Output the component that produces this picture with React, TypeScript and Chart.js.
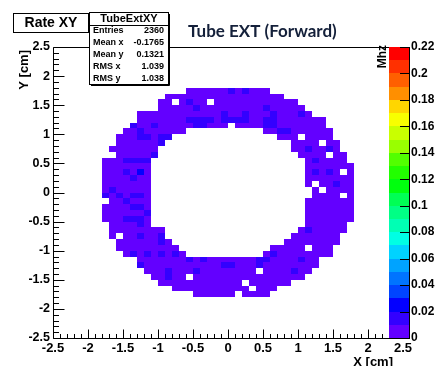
import React, { useEffect, useRef } from 'react';
import { Chart, registerables } from 'chart.js';

Chart.register(...registerables);

// ---------- axes ----------
const BIN = 0.1; // cm
const xMajorTicks = [-2.5, -2, -1.5, -1, -0.5, 0, 0.5, 1, 1.5, 2, 2.5];
const yMajorTicks = [-2.5, -2, -1.5, -1, -0.5, 0, 0.5, 1, 1.5, 2, 2.5];
const minorPerMajor = 5;
const zTicks = [0, 0.02, 0.04, 0.06, 0.08, 0.1, 0.12, 0.14, 0.16, 0.18, 0.2, 0.22];
const zMax = 0.22;
const zLevels = 22;

// ---------- data ----------
// lower edge (cm) of each filled y-bin row, top to bottom
const rowY = [
  1.7, 1.6, 1.5, 1.4, 1.3, 1.2, 1.1, 1.0, 0.9, 0.8, 0.7, 0.6, 0.5, 0.4, 0.3, 0.2, 0.1, 0.0,
  -0.1, -0.2, -0.3, -0.4, -0.5, -0.6, -0.7, -0.8, -0.9, -1.0, -1.1, -1.2, -1.3, -1.4, -1.5, -1.6, -1.7, -1.8,
];
// filled x ranges [from, to) in cm for each row above
const rowRuns: number[][][] = [
  [[-0.6, 0.6]],
  [[-0.9, 0.8]],
  [[-1.0, 1.0]],
  [[-1.0, 1.1]],
  [[-1.3, 1.2]],
  [[-1.3, 1.4]],
  [[-1.4, 1.4]],
  [[-1.5, -0.6], [0.5, 1.5]],
  [[-1.6, -0.8], [0.7, 1.5]],
  [[-1.6, -0.9], [0.9, 1.6]],
  [[-1.7, -1.0], [0.9, 1.6]],
  [[-1.6, -1.0], [1.0, 1.7]],
  [[-1.8, -1.1], [1.1, 1.7]],
  [[-1.8, -1.1], [1.1, 1.8]],
  [[-1.8, -1.1], [1.1, 1.8]],
  [[-1.8, -1.1], [1.1, 1.8]],
  [[-1.8, -1.1], [1.1, 1.8]],
  [[-1.8, -1.1], [1.2, 1.8]],
  [[-1.8, -1.1], [1.2, 1.8]],
  [[-1.7, -1.1], [1.1, 1.8]],
  [[-1.8, -1.1], [1.1, 1.8]],
  [[-1.8, -1.1], [1.1, 1.8]],
  [[-1.8, -1.1], [1.1, 1.8]],
  [[-1.7, -1.1], [1.1, 1.7]],
  [[-1.7, -0.9], [1.0, 1.7]],
  [[-1.7, -0.9], [0.9, 1.6]],
  [[-1.6, -0.8], [0.8, 1.6]],
  [[-1.6, -0.7], [0.6, 1.5]],
  [[-1.5, -0.6], [0.5, 1.5]],
  [[-1.3, 1.3]],
  [[-1.3, 1.3]],
  [[-1.2, 1.2]],
  [[-1.1, 1.1]],
  [[-1.0, 0.9]],
  [[-0.8, 0.7]],
  [[-0.5, 0.6]],
];
// empty bins inside the ring (lower-left corner, cm)
const emptyCells = [
  [0.0, 1.1], [-0.8, 1.5], [-0.3, 1.5], [1.0, 0.9], [1.3, 0.8], [1.4, 0.6], [1.6, 0.3],
  [1.2, 0.1], [1.3, 0.0], [1.6, -0.1], [-1.6, -0.8], [1.1, -1.0], [0.4, -1.4], [-0.6, -1.5],
  [0.2, -1.6], [0.3, -1.7], [0.1, -1.8],
];
// bins in the 0.01-0.02 MHz band
const midRateCells = [
  [0.0, 1.7], [0.2, 1.7], [-0.6, 1.5], [-0.5, 1.4], [0.5, 1.4], [-0.1, 1.3], [0.2, 1.3], [0.6, 1.3], [1.0, 1.3],
  [-0.6, 1.2], [-0.5, 1.2], [-0.4, 1.2], [-0.3, 1.2], [-0.1, 1.2], [0.0, 1.2], [0.1, 1.2], [0.2, 1.2],
  [0.5, 1.2], [0.6, 1.2], [-1.4, 1.1], [-1.1, 1.1], [-0.5, 1.1], [-0.4, 1.1], [0.5, 1.1], [0.6, 1.1],
  [-1.3, 1.0], [0.7, 1.0], [0.8, 1.0], [-1.3, 0.9], [-1.2, 0.9], [-1.0, 0.9], [-0.9, 0.9], [-1.0, 0.8],
  [1.1, 0.7], [1.4, 0.7], [-1.1, 0.6], [-1.5, 0.5], [-1.4, 0.5], [-1.3, 0.5], [-1.2, 0.5], [1.2, 0.5],
  [-1.5, 0.3], [1.2, 0.3], [1.4, 0.3], [-1.4, 0.2], [1.5, 0.1], [-1.7, 0.0], [-1.8, -0.1], [-1.6, -0.1],
  [-1.4, -0.1], [-1.3, -0.1], [-1.5, -0.2], [-1.4, -0.3], [-1.3, -0.3], [-1.2, -0.4], [-1.5, -0.5],
  [-1.4, -0.5], [-1.3, -0.5], [-1.3, -0.6], [1.1, -0.7], [-1.3, -0.8], [-1.0, -0.8], [-1.0, -0.9],
  [-1.4, -1.1], [-1.2, -1.1], [-1.0, -1.1], [-0.8, -1.1], [0.6, -1.1], [-0.6, -1.2], [-0.4, -1.2],
  [0.4, -1.2], [0.5, -1.2], [1.0, -1.2], [-1.3, -1.3], [-0.1, -1.3], [0.0, -1.3], [0.4, -1.3],
  [-0.9, -1.4], [-0.5, -1.4], [0.9, -1.4], [-0.9, -1.5],
];
// bins in the 0.02-0.03 MHz band
const highRateCells = [[-1.3, 0.3]];
const baseRate = 0.005;
const midRate = 0.015;
const highRate = 0.025;

const statsTitle = 'TubeExtXY';
const statsLabels = ['Entries', 'Mean x', 'Mean y', 'RMS x', 'RMS y'];
const statsValues = ['2360', '-0.1765', '0.1321', '1.039', '1.038'];
const chartTitle = 'Tube EXT (Forward)';
const boxTitle = 'Rate XY';
const xTitle = 'X [cm]';
const yTitle = 'Y [cm]';
const zTitle = 'Mhz';

// ---------- helpers ----------
const key = (x: number, y: number) => `${Math.round(x * 10)},${Math.round(y * 10)}`;

function buildCells() {
  const empty = new Set(emptyCells.map(([x, y]) => key(x, y)));
  const mid = new Set(midRateCells.map(([x, y]) => key(x, y)));
  const high = new Set(highRateCells.map(([x, y]) => key(x, y)));
  const cells: { x: number; y: number; v: number }[] = [];
  rowY.forEach((y, i) => {
    rowRuns[i].forEach(([a, b]) => {
      for (let k = Math.round(a * 10); k < Math.round(b * 10); k++) {
        const x = k / 10;
        const kk = key(x, y);
        if (empty.has(kk)) continue;
        const v = high.has(kk) ? highRate : mid.has(kk) ? midRate : baseRate;
        cells.push({ x: x + BIN / 2, y: y + BIN / 2, v });
      }
    });
  });
  return cells;
}

// ROOT "pretty" palette (SetPalette(1)), 50 colours, picked for zLevels contours
function paletteColor(level: number) {
  const idx = Math.floor(((level + 0.99) * 50) / zLevels);
  const hue = 280 - (idx + 1) * 5.6;
  return `hsl(${hue}, 100%, 50%)`;
}
function colorFor(v: number) {
  const level = Math.min(zLevels - 1, Math.max(0, Math.floor((v / zMax) * zLevels)));
  return paletteColor(level);
}

function withMinors(majors: number[]) {
  const out: number[] = [];
  for (let i = 0; i < majors.length; i++) {
    out.push(majors[i]);
    if (i < majors.length - 1) {
      const step = (majors[i + 1] - majors[i]) / minorPerMajor;
      for (let j = 1; j < minorPerMajor; j++) out.push(Math.round((majors[i] + j * step) * 1000) / 1000);
    }
  }
  return out;
}
const isMajor = (majors: number[], v: number) => majors.some((m) => Math.abs(m - v) < 1e-6);

const FONT = '"Liberation Sans", Arial, sans-serif';

const rootPlugin = {
  id: 'rootStyle',
  beforeDraw(chart: any) {
    const { ctx, width, height } = chart;
    ctx.save();
    ctx.fillStyle = '#fff';
    ctx.fillRect(0, 0, width, height);
    ctx.restore();
  },
  beforeDatasetsDraw(chart: any) {
    const { ctx } = chart;
    const xs = chart.scales.x;
    const ys = chart.scales.y;
    const data = chart.data.datasets[0].data as { x: number; y: number; v: number }[];
    ctx.save();
    for (const c of data) {
      const x0 = Math.round(xs.getPixelForValue(c.x - BIN / 2));
      const x1 = Math.round(xs.getPixelForValue(c.x + BIN / 2));
      const y0 = Math.round(ys.getPixelForValue(c.y - BIN / 2));
      const y1 = Math.round(ys.getPixelForValue(c.y + BIN / 2));
      ctx.fillStyle = colorFor(c.v);
      ctx.fillRect(x0, y1, x1 - x0, y0 - y1);
    }
    ctx.restore();
  },
  afterDraw(chart: any) {
    const { ctx, chartArea } = chart;
    const xs = chart.scales.x;
    const ys = chart.scales.y;
    const zs = chart.scales.z;
    const L = Math.round(chartArea.left) + 0.5;
    const R = Math.round(chartArea.right) + 0.5;
    const T = Math.round(chartArea.top) + 0.5;
    const B = Math.round(chartArea.bottom) + 0.5;
    ctx.save();
    ctx.strokeStyle = '#000';
    ctx.lineWidth = 1;
    // frame
    ctx.beginPath();
    ctx.moveTo(L, T); ctx.lineTo(R, T); ctx.lineTo(R, B); ctx.lineTo(L, B); ctx.closePath();
    ctx.stroke();
    // x ticks (inside)
    ctx.beginPath();
    for (const t of xs.ticks) {
      const p = Math.round(xs.getPixelForValue(t.value)) + 0.5;
      const len = isMajor(xMajorTicks, t.value) ? 9 : 4.5;
      ctx.moveTo(p, B); ctx.lineTo(p, B - len);
    }
    for (const t of ys.ticks) {
      const p = Math.round(ys.getPixelForValue(t.value)) + 0.5;
      const len = isMajor(yMajorTicks, t.value) ? 11 : 5.5;
      ctx.moveTo(L, p); ctx.lineTo(L + len, p);
    }
    ctx.stroke();

    // colour bar
    const cbL = 389, cbR = 409;
    for (let k = 0; k < zLevels; k++) {
      const ya = Math.round(zs.getPixelForValue((k * zMax) / zLevels));
      const yb = Math.round(zs.getPixelForValue(((k + 1) * zMax) / zLevels));
      ctx.fillStyle = paletteColor(k);
      ctx.fillRect(cbL, yb, cbR - cbL, ya - yb);
    }
    const zTop = Math.round(zs.getPixelForValue(zMax));
    const zBot = Math.round(zs.getPixelForValue(0));
    ctx.beginPath();
    ctx.moveTo(cbR + 0.5, zTop); ctx.lineTo(cbR + 0.5, zBot + 1);
    for (const v of zTicks) {
      const p = Math.round(zs.getPixelForValue(v)) + 0.5;
      ctx.moveTo(cbR + 0.5, p); ctx.lineTo(cbR - 9, p);
    }
    ctx.stroke();

    // texts
    ctx.fillStyle = '#000';
    ctx.textBaseline = 'alphabetic';
    ctx.font = `bold 13px ${FONT}`;
    ctx.textAlign = 'right';
    ctx.fillText(xTitle, 393, 366);
    ctx.save();
    ctx.translate(28, 50);
    ctx.rotate(-Math.PI / 2);
    ctx.fillText(yTitle, 0, 0);
    ctx.restore();
    ctx.save();
    ctx.font = `bold 12px ${FONT}`;
    ctx.translate(386, 45);
    ctx.rotate(-Math.PI / 2);
    ctx.fillText(zTitle, 0, 0);
    ctx.restore();

    // title
    ctx.textAlign = 'left';
    ctx.fillStyle = '#14203a';
    ctx.font = `bold 17px Lato, "Open Sans", sans-serif`;
    ctx.fillText(chartTitle, 188, 37);

    // "Rate XY" box
    ctx.fillStyle = '#fff';
    ctx.fillRect(13, 13, 75, 19);
    ctx.strokeStyle = '#000';
    ctx.strokeRect(13.5, 13.5, 75, 19);
    ctx.fillStyle = '#000';
    ctx.font = `bold 14px ${FONT}`;
    ctx.textAlign = 'center';
    ctx.textBaseline = 'middle';
    ctx.fillText(boxTitle, 51, 23.5);

    // stats box
    const sx = 89, sy = 12, sw = 79, sh = 72;
    ctx.fillStyle = '#fff';
    ctx.fillRect(sx, sy, sw, sh);
    ctx.strokeRect(sx + 0.5, sy + 0.5, sw, sh);
    ctx.beginPath();
    ctx.moveTo(sx + sw + 1.5, sy + 2); ctx.lineTo(sx + sw + 1.5, sy + sh + 1.5); ctx.lineTo(sx + 2, sy + sh + 1.5);
    ctx.moveTo(sx + 0.5, 25.5); ctx.lineTo(sx + sw + 0.5, 25.5);
    ctx.stroke();
    ctx.fillStyle = '#000';
    ctx.font = `bold 11px ${FONT}`;
    ctx.fillText(statsTitle, sx + sw / 2 + 0.5, 19);
    ctx.font = `bold 9px ${FONT}`;
    statsLabels.forEach((lab, i) => {
      const yy = 31 + i * 12;
      ctx.textAlign = 'left';
      ctx.fillText(lab, 93, yy);
      ctx.textAlign = 'right';
      ctx.fillText(statsValues[i], 164, yy);
    });
    ctx.restore();
  },
};

export default function App() {
  const ref = useRef<HTMLCanvasElement | null>(null);
  useEffect(() => {
    if (!ref.current) return;
    const xTickValues = withMinors(xMajorTicks);
    const yTickValues = withMinors(yMajorTicks);
    const chart = new Chart(ref.current, {
      type: 'scatter',
      data: {
        datasets: [
          {
            data: buildCells(),
            pointRadius: 0,
            pointHoverRadius: 0,
            showLine: false,
          } as any,
        ],
      },
      options: {
        animation: false,
        responsive: false,
        maintainAspectRatio: false,
        events: [],
        layout: { padding: { top: 47, left: 0, right: 0, bottom: 0 } },
        plugins: { legend: { display: false }, tooltip: { enabled: false }, title: { display: false } },
        scales: {
          x: {
            type: 'linear',
            position: 'bottom',
            min: xMajorTicks[0],
            max: xMajorTicks[xMajorTicks.length - 1],
            afterBuildTicks: (s: any) => { s.ticks = xTickValues.map((value) => ({ value })); },
            afterFit: (s: any) => { s.height = 28; },
            grid: { display: false, drawTicks: false },
            border: { display: false },
            ticks: {
              autoSkip: false,
              maxRotation: 0,
              padding: 3,
              color: '#000',
              font: { family: FONT, size: 13, weight: 'bold' },
              callback: (v: any) => (isMajor(xMajorTicks, Number(v)) ? String(Number(v)) : ''),
            },
          },
          y: {
            type: 'linear',
            position: 'left',
            min: yMajorTicks[0],
            max: yMajorTicks[yMajorTicks.length - 1],
            afterBuildTicks: (s: any) => { s.ticks = yTickValues.map((value) => ({ value })); },
            afterFit: (s: any) => { s.width = 53; },
            grid: { display: false, drawTicks: false },
            border: { display: false },
            ticks: {
              autoSkip: false,
              padding: 3,
              color: '#000',
              font: { family: FONT, size: 12.5, weight: 'bold' },
              callback: (v: any) => (isMajor(yMajorTicks, Number(v)) ? String(Number(v)) : ''),
            },
          },
          z: {
            type: 'linear',
            position: 'right',
            min: 0,
            max: zMax,
            afterBuildTicks: (s: any) => { s.ticks = zTicks.map((value) => ({ value })); },
            afterFit: (s: any) => { s.width = 37; },
            grid: { display: false, drawTicks: false },
            border: { display: false },
            ticks: {
              autoSkip: false,
              padding: 8,
              color: '#000',
              font: { family: FONT, size: 12, weight: 'bold' },
              callback: (v: any) => String(Number(v)),
            },
          },
        },
      } as any,
      plugins: [rootPlugin],
    });
    return () => chart.destroy();
  }, []);
  return (
    <div style={{ position: 'absolute', left: 0, top: 0, width: 440, height: 366, background: '#fff' }}>
      <canvas ref={ref} width={440} height={366} style={{ display: 'block', width: 440, height: 366 }} />
    </div>
  );
}
